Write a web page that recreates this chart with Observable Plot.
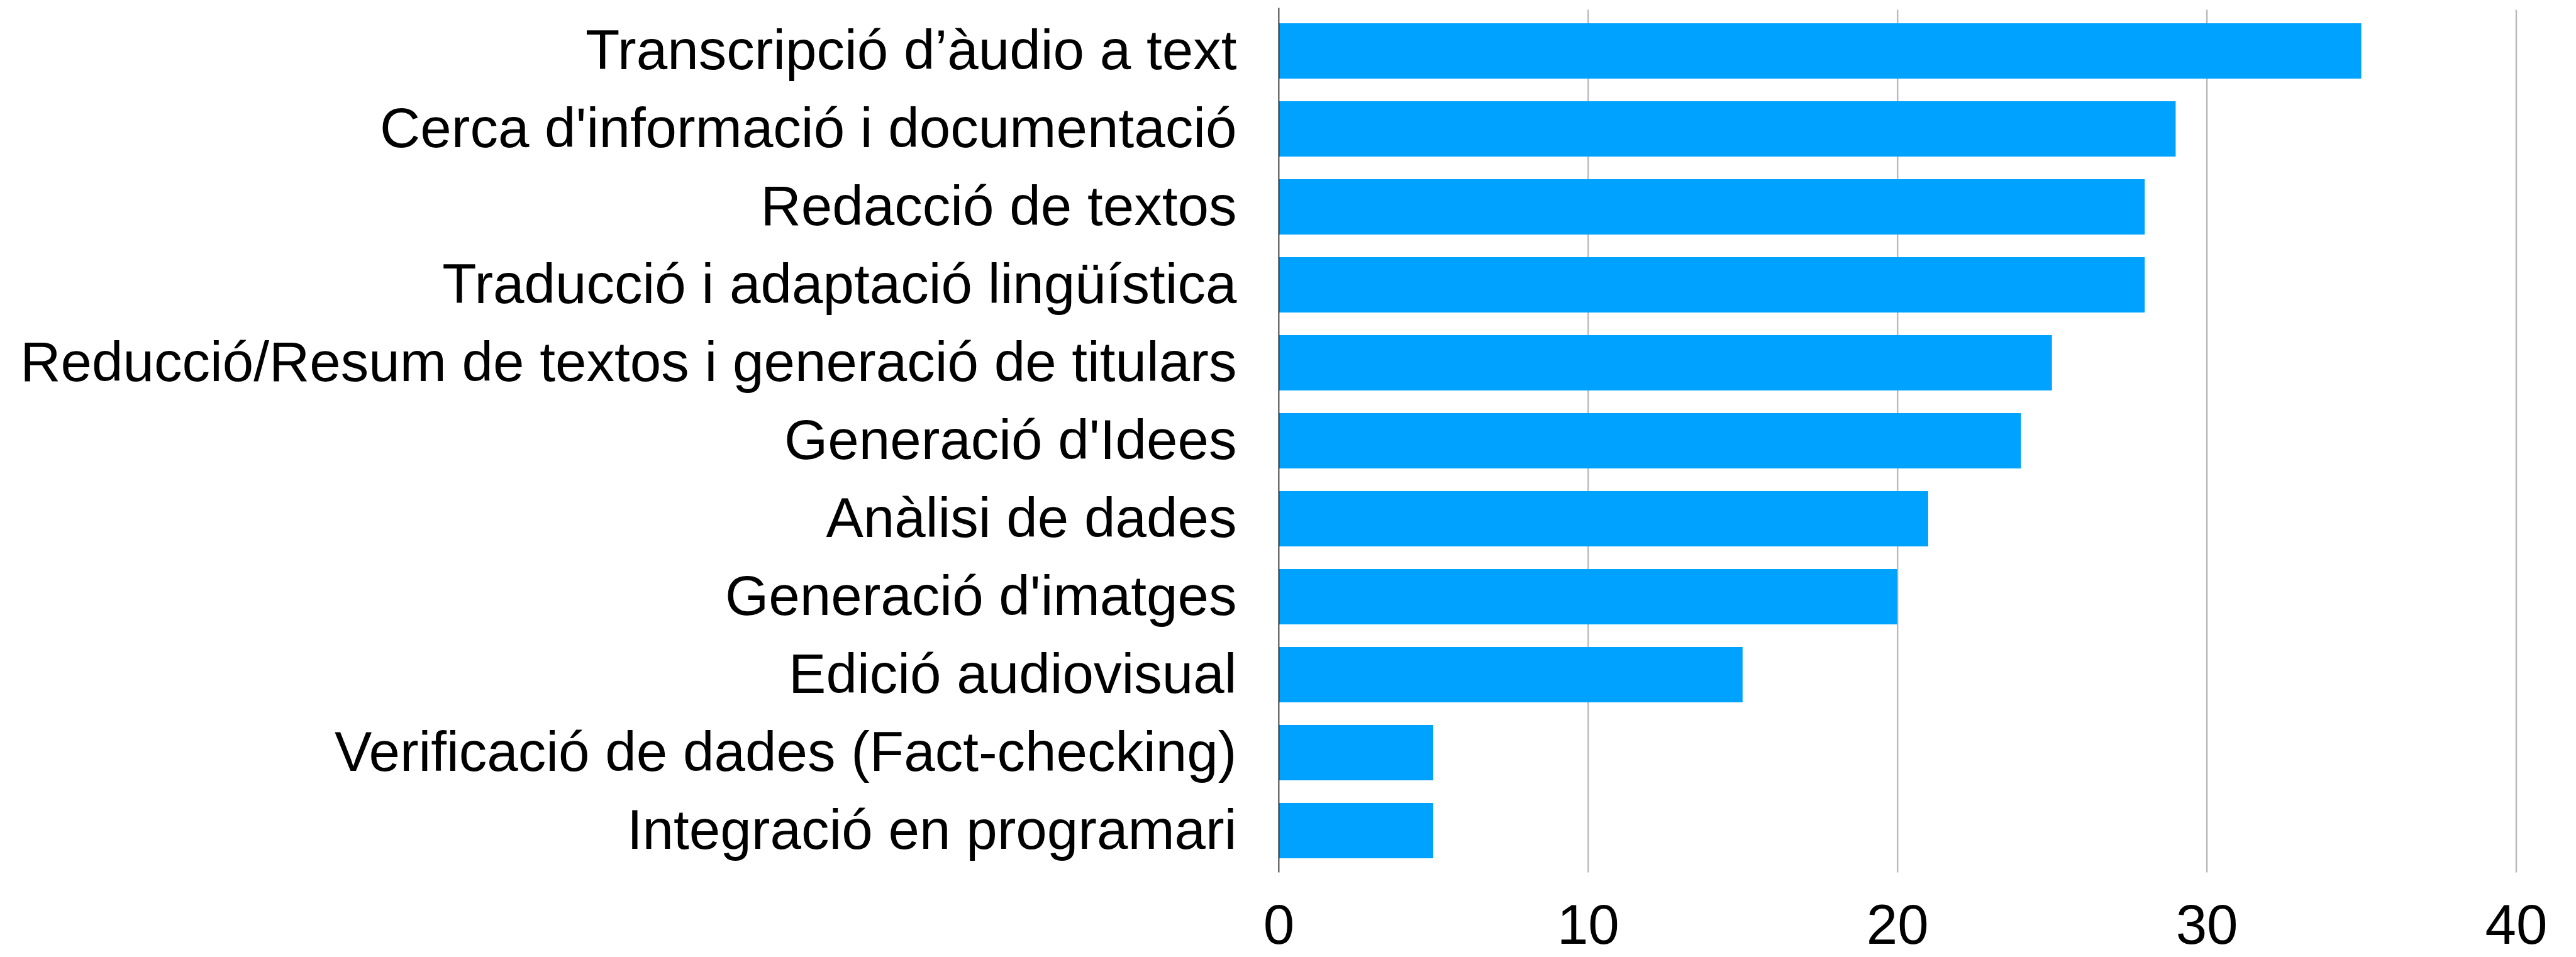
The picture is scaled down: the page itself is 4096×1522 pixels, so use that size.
<!DOCTYPE html>
<html>
<head>
<meta charset="utf-8">
<script src="https://cdn.jsdelivr.net/npm/d3@7"></script>
<script src="https://cdn.jsdelivr.net/npm/@observablehq/plot@0.6"></script>
<style>
  html, body { margin: 0; padding: 0; background: #fff; }
  #chart svg { display: block; }
</style>
</head>
<body>
<div id="chart"></div>
<script>
const categories = [
  "Transcripció d’àudio a text",
  "Cerca d'informació i documentació",
  "Redacció de textos",
  "Traducció i adaptació lingüística",
  "Reducció/Resum de textos i generació de titulars",
  "Generació d'Idees",
  "Anàlisi de dades",
  "Generació d'imatges",
  "Edició audiovisual",
  "Verificació de dades (Fact-checking)",
  "Integració en programari"
];
const values = [35, 29, 28, 28, 25, 24, 21, 20, 15, 5, 5];
const xTicks = [0, 10, 20, 30, 40];
const gridTicks = [10, 20, 30, 40];

const data = categories.map((c, i) => ({category: c, value: values[i]}));

const chart = Plot.plot({
  width: 4096,
  height: 1522,
  marginTop: 15.5,
  marginBottom: 134.4,
  marginLeft: 2033,
  marginRight: 95.5,
  style: {fontFamily: "'Liberation Sans', Arial, Helvetica, sans-serif", fontSize: "89px", color: "#000", background: "#fff"},
  x: {domain: [0, 40]},
  y: {domain: categories, paddingInner: 0.288, paddingOuter: 0.17},
  marks: [
    Plot.gridX(gridTicks, {stroke: "#b9b9b9", strokeOpacity: 1, strokeWidth: 2.4}),
    Plot.barX(data, {x: "value", y: "category", fill: "#00a2ff"}),
    Plot.ruleX([0], {stroke: "#000", strokeWidth: 1.6, insetTop: -3}),
    Plot.axisX(xTicks, {tickSize: 0, tickPadding: 50, fontSize: 89, label: null, fill: "#000"}),
    Plot.axisY({tickSize: 0, tickPadding: 67, fontSize: 89, label: null, fill: "#000"})
  ]
});
document.getElementById("chart").appendChild(chart);
</script>
</body>
</html>
